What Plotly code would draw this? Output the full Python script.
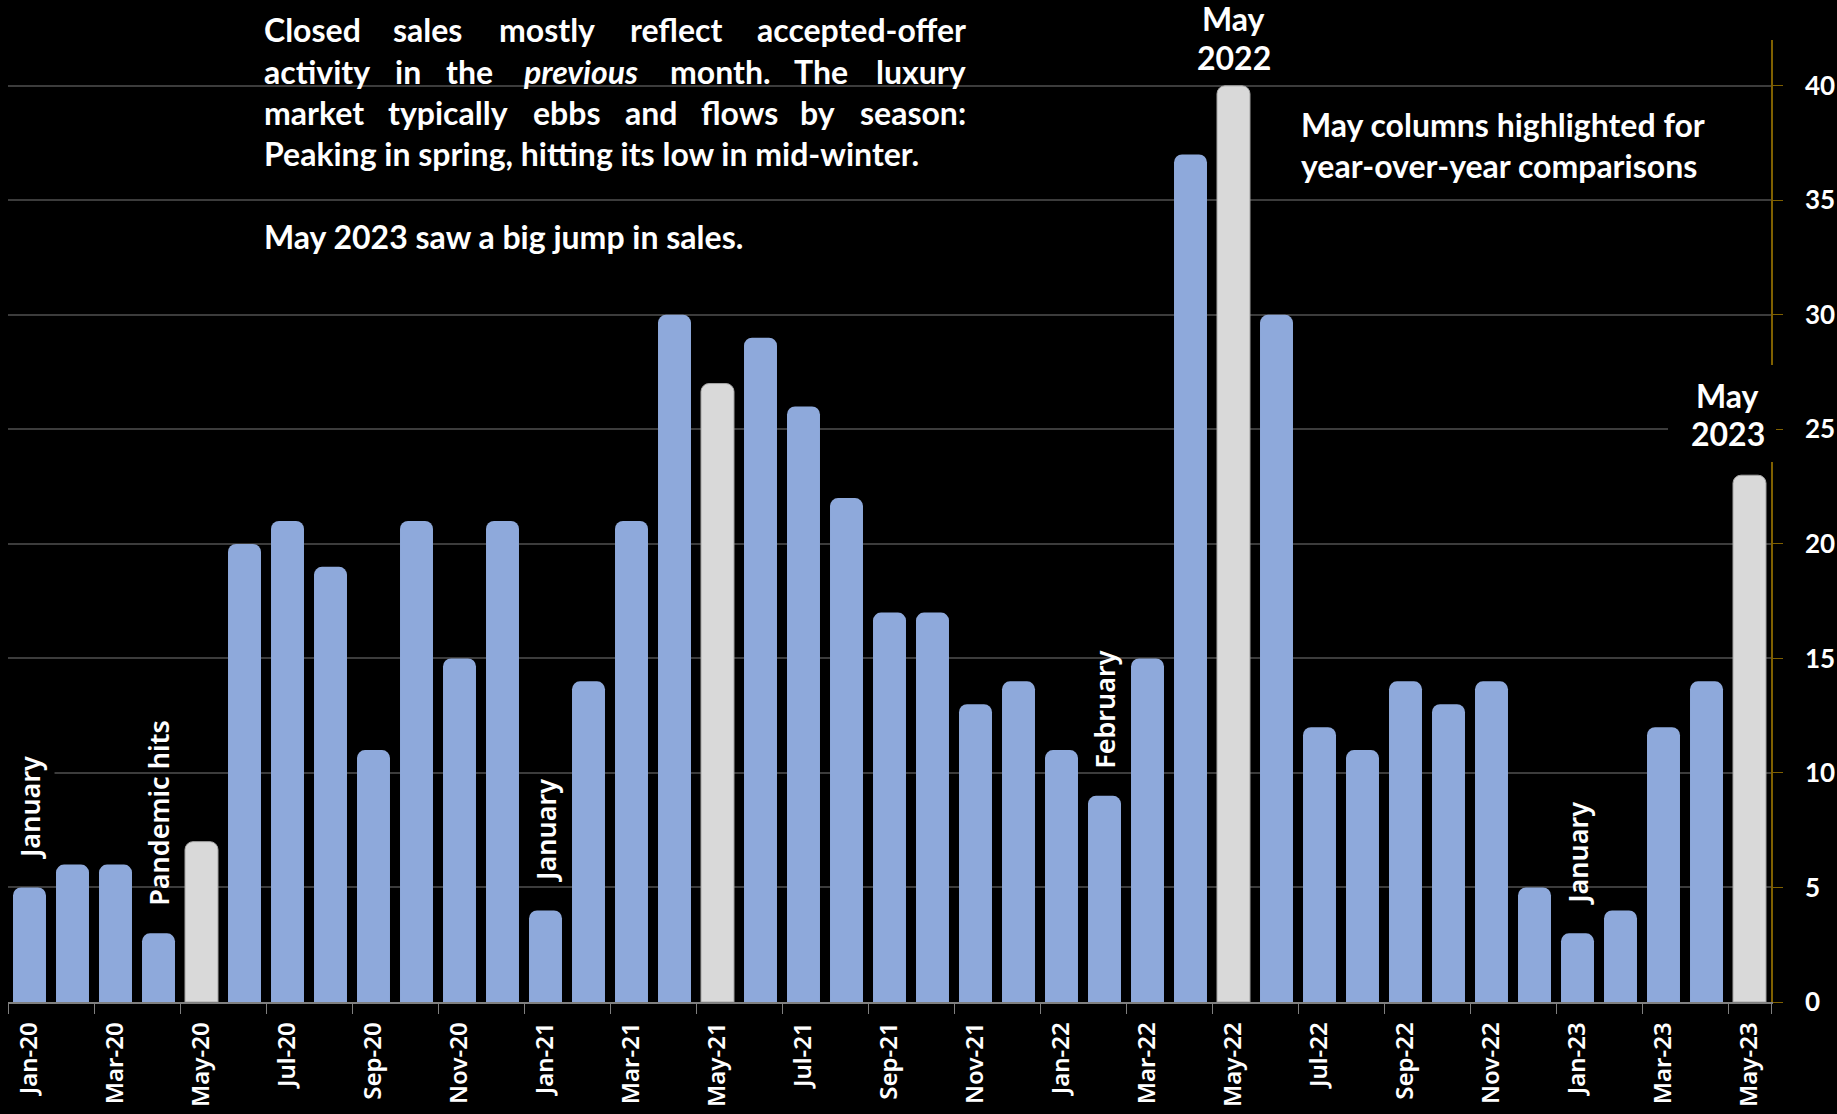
import plotly.graph_objects as go

# Monthly closed luxury sales, Jan 2020 - May 2023
months = [
    "Jan-20", "Feb-20", "Mar-20", "Apr-20", "May-20", "Jun-20", "Jul-20", "Aug-20",
    "Sep-20", "Oct-20", "Nov-20", "Dec-20",
    "Jan-21", "Feb-21", "Mar-21", "Apr-21", "May-21", "Jun-21", "Jul-21", "Aug-21",
    "Sep-21", "Oct-21", "Nov-21", "Dec-21",
    "Jan-22", "Feb-22", "Mar-22", "Apr-22", "May-22", "Jun-22", "Jul-22", "Aug-22",
    "Sep-22", "Oct-22", "Nov-22", "Dec-22",
    "Jan-23", "Feb-23", "Mar-23", "Apr-23", "May-23",
]
sales = [
    5, 6, 6, 3, 7, 20, 21, 19, 11, 21, 15, 21,
    4, 14, 21, 30, 27, 29, 26, 22, 17, 17, 13, 14,
    11, 9, 15, 37, 40, 30, 12, 11, 14, 13, 14, 5,
    3, 4, 12, 14, 23,
]
y_ticks = [0, 5, 10, 15, 20, 25, 30, 35, 40]
x_tick_labels = months[::2]

# vertical callouts: (month, text)
callouts = [
    ("Jan-20", "January"),
    ("Apr-20", "Pandemic hits"),
    ("Jan-21", "January"),
    ("Feb-22", "February"),
    ("Jan-23", "January"),
]

W, H = 1837, 1114
PL, PR, PT, PB = 8, 1771, 40, 1002  # plot area in pixels


def px(x):
    return (x - PL) / (PR - PL)


def py(y):
    return (PB - y) / (PB - PT)


BLUE = "#8EA9DB"
GREY = "#D9D9D9"
GOLD = "#7F6000"

is_may = [m.startswith("May") for m in months]
blue_x = [m for m, h in zip(months, is_may) if not h]
blue_y = [v for v, h in zip(sales, is_may) if not h]
may_x = [m for m, h in zip(months, is_may) if h]
may_y = [v for v, h in zip(sales, is_may) if h]

fig = go.Figure()
fig.add_trace(go.Bar(x=blue_x, y=blue_y, marker=dict(color=BLUE, cornerradius=8,
                                                       line=dict(width=0)),
                     hoverinfo="x+y"))
fig.add_trace(go.Bar(x=may_x, y=may_y, marker=dict(color=GREY, cornerradius=8,
                                                     line=dict(width=1, color="#A6A6A6")),
                     hoverinfo="x+y"))

text_font = dict(family="Lato", size=32, color="white", weight="bold")
note_font = dict(family="Noto Sans", size=27, color="white", weight=600)

annotations = []


def line_note(text, x, y, xanchor="left", xref="paper", xshift=0):
    return dict(text=text, xref=xref, yref="paper", x=x, y=py(y), xshift=xshift,
                xanchor=xanchor, yanchor="middle", showarrow=False, font=text_font,
                borderpad=0)


# justified paragraph, one word per annotation
para_left, para_right = 263, 967
para_rows = [
    (29, ["Closed", "sales", "mostly", "reflect", "accepted-offer"],
     [None, 427.5, 546.5, 676, None]),
    (71.5, ["activity", "in", "the", "<i>previous</i>", "month.", "The", "luxury"],
     [None, 407.5, 469.5, 580.5, 720, 820.5, None]),
    (112.5, ["market", "typically", "ebbs", "and", "flows", "by", "season:"],
     [None, 448, 566.5, 650.5, 739.5, 817.5, None]),
]
for yy, words, centers in para_rows:
    for i, (w, c) in enumerate(zip(words, centers)):
        if i == 0:
            annotations.append(line_note(w, px(para_left), yy, "left"))
        elif i == len(words) - 1:
            annotations.append(line_note(w, px(para_right), yy, "right"))
        else:
            annotations.append(line_note(w, px(c), yy, "center"))

annotations.append(line_note("Peaking in spring, hitting its low in mid-winter.",
                             px(para_left), 153.5))
annotations.append(line_note("May 2023 saw a big jump in sales.", px(para_left), 237))

annotations.append(line_note("May columns highlighted for", px(1300), 124))
annotations.append(line_note("year-over-year comparisons", px(1300), 166))

# year labels above the highlighted May columns
annotations.append(line_note("May", "May-22", 18.5, "center", xref="x"))
annotations.append(line_note("2022", "May-22", 57.5, "center", xref="x"))
annotations.append(line_note("May", "May-23", 395, "center", xref="x", xshift=-22))
annotations.append(line_note("2023", "May-23", 434, "center", xref="x", xshift=-22))

for m, label in callouts:
    v = sales[months.index(m)]
    first = m == "Jan-20"
    annotations.append(dict(text=label, xref="x", yref="y", x=m, y=v, textangle=-90,
                            xanchor="center", yanchor="bottom", showarrow=False,
                            yshift=(27 - 7) if first else (27 - 2),
                            font=note_font,
                            bgcolor="black" if first else "rgba(0,0,0,0)",
                            borderpad=6 if first else 1))

shapes = [
    # backing panel of the paragraph
    dict(type="rect", xref="paper", yref="paper", layer="between",
         x0=px(242), x1=px(988), y0=py(0), y1=py(255),
         fillcolor="black", line=dict(width=0)),
    # backing panel of the May 2023 label
    dict(type="rect", xref="paper", yref="paper", layer="above",
         x0=px(1668), x1=px(1776), y0=py(365), y1=py(462),
         fillcolor="black", line=dict(width=0)),
]

fig.update_layout(
    width=W, height=H,
    margin=dict(l=PL, r=W - PR, t=PT, b=H - PB),
    paper_bgcolor="black", plot_bgcolor="black",
    barmode="overlay", bargap=0.233, showlegend=False,
    annotations=annotations,
    shapes=shapes,
    xaxis=dict(type="category", categoryorder="array", categoryarray=months,
               range=[-0.5, len(months) - 0.5], automargin=False,
               tickmode="array", tickvals=x_tick_labels, ticktext=x_tick_labels,
               tickson="boundaries", ticks="outside", ticklen=10, tickcolor="#808080",
               tickangle=-90, ticklabelstandoff=9,
               tickfont=dict(family="Noto Sans", size=24, color="white", weight=600),
               showline=True, linecolor="#808080", linewidth=1.5, showgrid=False,
               zeroline=False),
    yaxis=dict(side="right", range=[0, 42], tickmode="array", tickvals=y_ticks,
               ticks="outside", ticklen=10, tickcolor=GOLD, showline=True,
               linecolor=GOLD, linewidth=1.5, gridcolor="#3C3C3C", gridwidth=1.5,
               zeroline=False, ticklabelstandoff=17, automargin=False,
               tickfont=dict(family="Lato", size=26, color="white", weight="bold")),
)

fig.write_html("out.html")
